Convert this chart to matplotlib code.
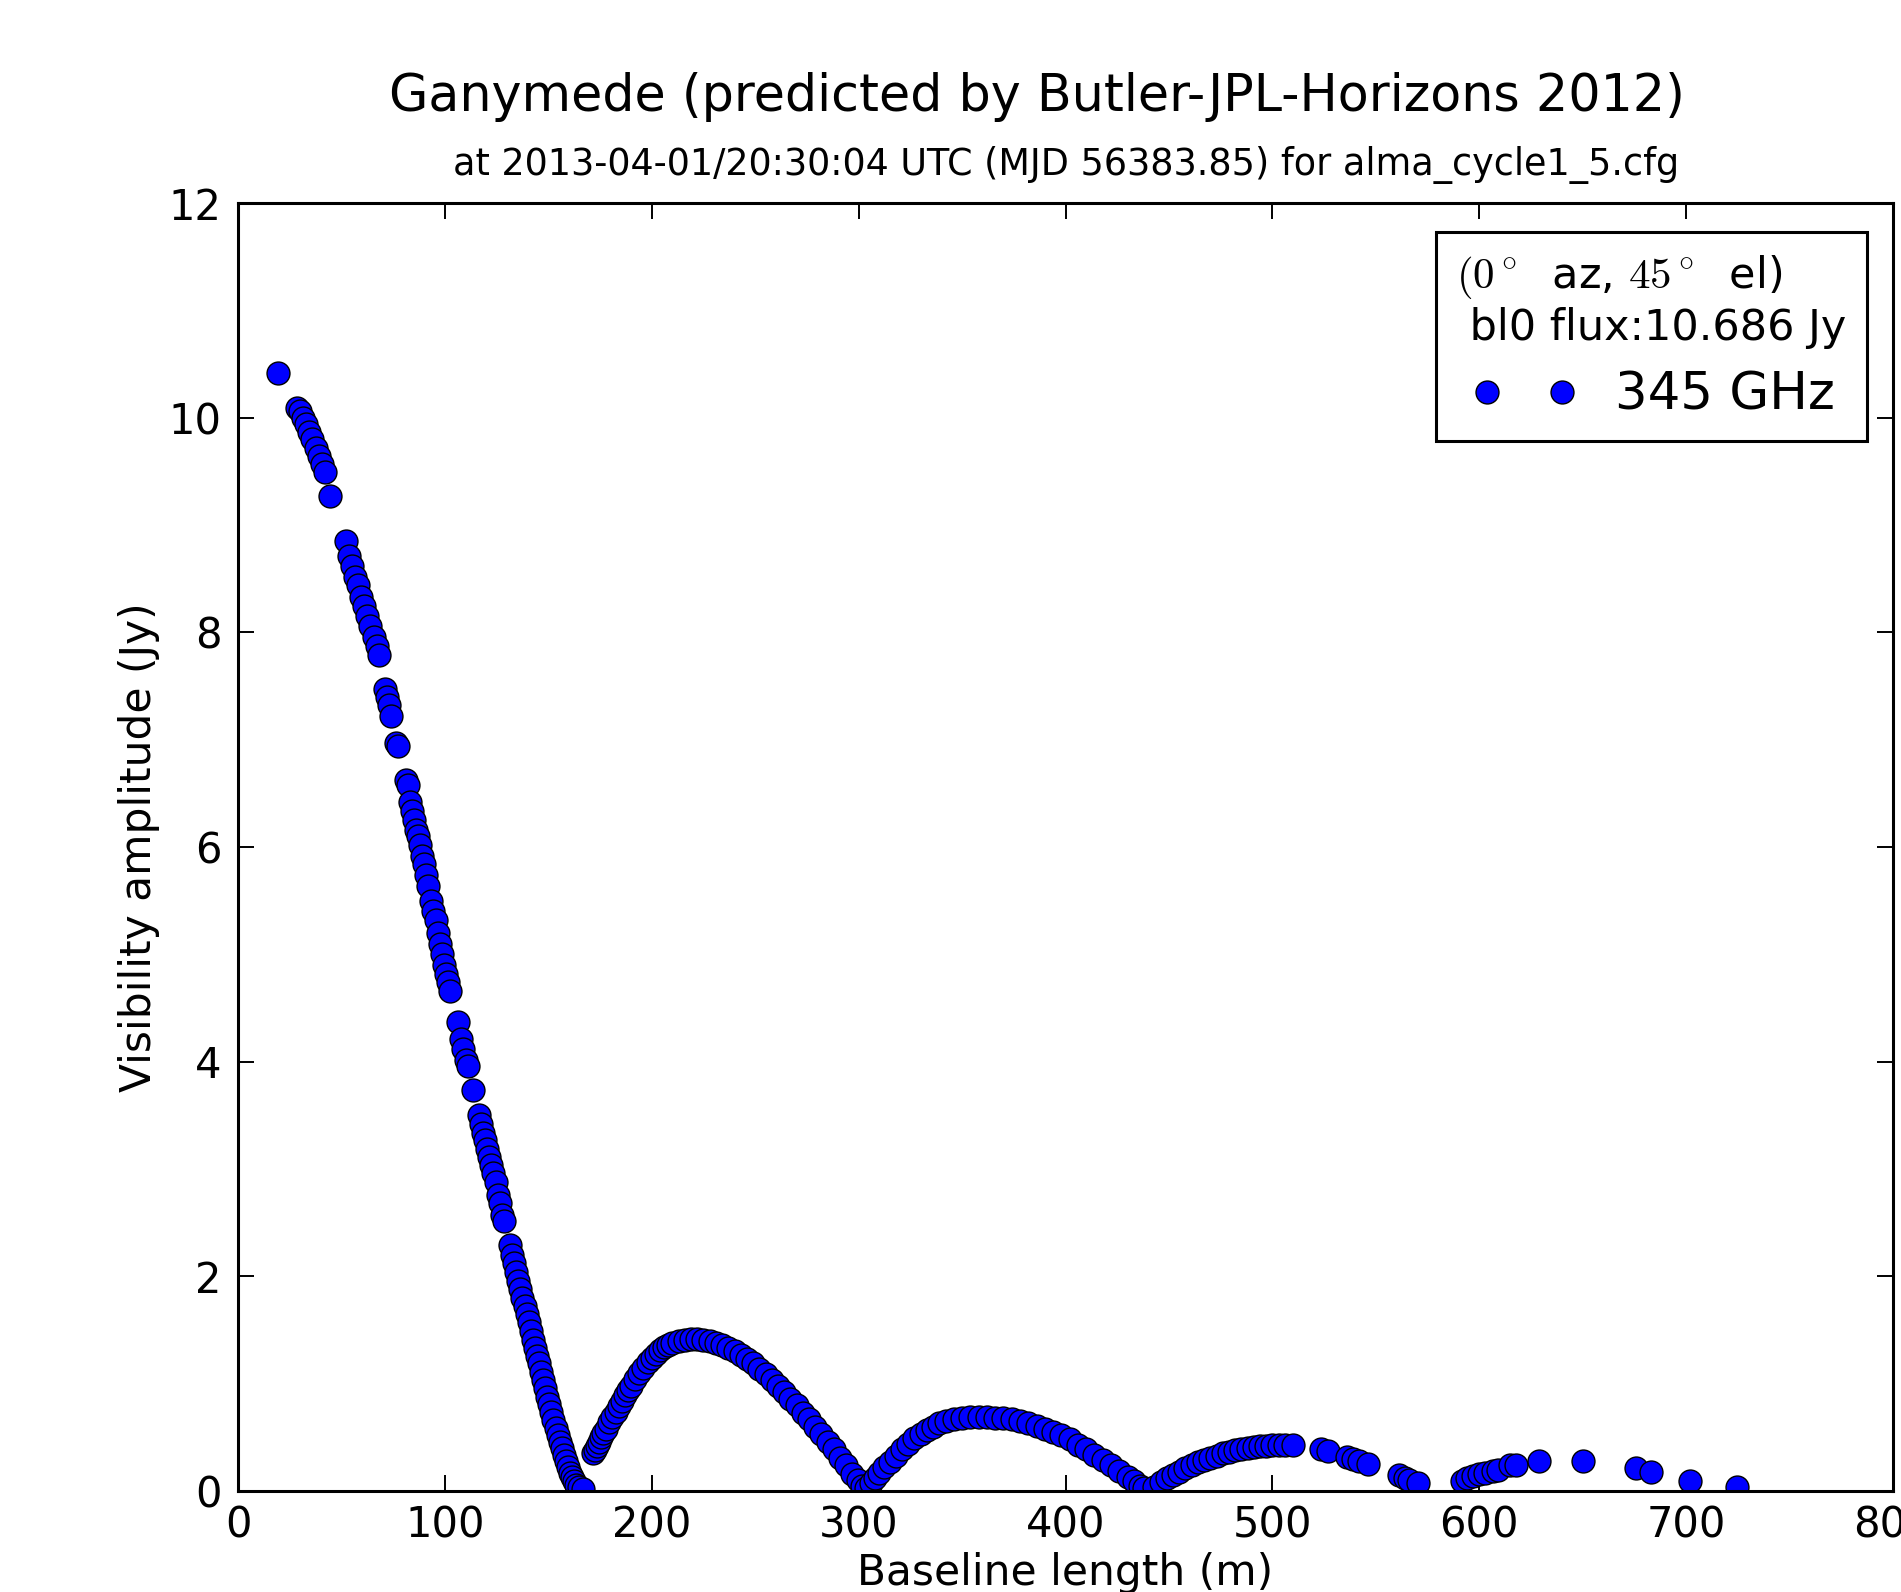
import matplotlib
matplotlib.use('Agg')
import matplotlib.pyplot as plt
from matplotlib.lines import Line2D
from matplotlib.legend_handler import HandlerLine2D

plt.rcParams['font.family'] = ['DejaVu Sans']
plt.rcParams['mathtext.fontset'] = 'cm'

# baseline length (m) and visibility amplitude (Jy)
baseline = [
    19.3, 28.5, 30.0, 31.5, 33.0, 34.5, 36.0, 37.5, 39.0, 40.5, 42.0, 44.5,
    52.0, 53.5, 55.0, 56.5, 58.0, 59.5, 61.0, 62.5, 64.0, 65.5, 67.0, 68.0,
    71.0, 72.0, 73.0, 74.0, 76.5, 77.5, 81.0, 82.0, 83.0, 84.0, 85.0, 86.0,
    87.0, 88.0, 89.0, 90.0, 91.0, 92.0, 93.5, 94.5, 95.5, 96.5, 97.5, 98.5,
    99.5, 100.5, 101.5, 102.5, 106.5, 108.0, 109.0, 110.0, 111.0, 113.5,
    116.5, 117.5, 118.5, 119.5, 120.5, 121.5, 122.5, 123.5, 124.5, 125.5,
    126.5, 127.5, 128.5, 131.5, 132.5, 133.5, 134.5, 135.5, 136.5, 137.5,
    138.5, 139.5, 140.5, 141.5, 142.5, 143.5, 144.5, 145.5, 146.5, 147.5,
    148.5, 149.5, 150.5, 151.5, 152.5, 153.5, 154.5, 155.5, 156.5, 157.5,
    158.5, 159.5, 160.5, 161.5, 162.5, 163.5, 165.0, 167.0,
    171.5, 172.5, 173.5, 174.5, 175.5, 176.5, 178.0, 179.5, 181.0, 182.5,
    184.0, 185.5, 187.0, 188.5, 190.0, 192.0, 194.0, 196.0, 198.0, 200.0,
    202.0, 204.0, 206.0, 208.0, 210.0, 213.0, 216.0, 219.0, 222.0, 225.0,
    228.0, 231.0, 234.0, 237.0, 240.0, 243.0, 246.0, 249.0, 252.0, 255.0,
    258.0, 261.0, 264.0, 267.0, 270.0, 273.0, 276.0, 279.0, 282.0, 285.0,
    288.0, 291.0, 294.0, 297.0, 299.5, 301.5, 303.5,
    306.0, 308.0, 310.0, 312.5, 315.0, 318.0, 321.0, 324.0, 327.0, 330.0,
    333.0, 336.0, 339.0, 342.0, 346.0, 350.0, 354.0, 358.0, 362.0, 366.0,
    370.0, 374.0, 378.0, 382.0, 386.0, 390.0, 394.0, 398.0, 402.0, 406.0,
    410.0, 414.0, 418.0, 422.0, 426.0, 430.0, 433.0, 436.0, 438.0,
    443.0, 446.0, 449.0, 452.0, 455.0, 458.0, 461.0, 464.0, 467.0, 470.0,
    473.0, 476.0, 479.0, 482.0, 485.0, 488.0, 491.0, 494.0, 497.0, 500.0,
    503.0, 506.0, 510.0, 523.5, 527.0, 536.0, 539.0, 542.0, 546.0, 561.0,
    564.0, 566.0, 570.5,
    591.5, 594.0, 597.0, 600.0, 603.0, 606.5, 609.0, 615.0, 618.0, 629.0,
    650.0, 676.0, 683.0, 702.0, 724.5,
]
amplitude = [
    10.42, 10.09, 10.06, 10.00, 9.94, 9.87, 9.80, 9.72, 9.64, 9.57, 9.49, 9.27,
    8.85, 8.71, 8.62, 8.52, 8.44, 8.33, 8.25, 8.15, 8.06, 7.96, 7.87, 7.79,
    7.47, 7.40, 7.32, 7.22, 6.97, 6.94, 6.62, 6.58, 6.42, 6.34, 6.25, 6.16,
    6.10, 6.02, 5.92, 5.84, 5.74, 5.64, 5.50, 5.40, 5.32, 5.20, 5.10, 5.00,
    4.90, 4.82, 4.74, 4.66, 4.37, 4.21, 4.12, 4.02, 3.96, 3.74,
    3.50, 3.42, 3.34, 3.27, 3.19, 3.11, 3.04, 2.96, 2.88, 2.76,
    2.68, 2.57, 2.52, 2.29, 2.20, 2.12, 2.04, 1.96, 1.88, 1.80,
    1.72, 1.65, 1.57, 1.49, 1.41, 1.33, 1.26, 1.19, 1.11, 1.03,
    0.96, 0.88, 0.81, 0.74, 0.66, 0.59, 0.52, 0.46, 0.40, 0.34,
    0.28, 0.22, 0.17, 0.13, 0.09, 0.06, 0.04, 0.02,
    0.35, 0.38, 0.42, 0.46, 0.50, 0.54, 0.58, 0.64, 0.69, 0.74,
    0.79, 0.84, 0.89, 0.94, 0.98, 1.04, 1.10, 1.15, 1.20, 1.24,
    1.28, 1.31, 1.34, 1.36, 1.38, 1.40, 1.41, 1.42, 1.42, 1.41,
    1.40, 1.38, 1.36, 1.33, 1.30, 1.27, 1.23, 1.19, 1.14, 1.09,
    1.03, 0.98, 0.92, 0.86, 0.80, 0.73, 0.67, 0.60, 0.53, 0.46,
    0.39, 0.31, 0.24, 0.16, 0.10, 0.05, 0.03,
    0.07, 0.12, 0.17, 0.22, 0.27, 0.33, 0.39, 0.44, 0.49, 0.53,
    0.57, 0.60, 0.63, 0.65, 0.67, 0.68, 0.69, 0.69, 0.69, 0.68,
    0.68, 0.67, 0.65, 0.63, 0.61, 0.58, 0.55, 0.52, 0.48, 0.43,
    0.39, 0.34, 0.29, 0.24, 0.19, 0.13, 0.09, 0.05, 0.03,
    0.04, 0.08, 0.12, 0.15, 0.18, 0.21, 0.24, 0.27, 0.29, 0.31,
    0.33, 0.35, 0.36, 0.38, 0.39, 0.40, 0.41, 0.42, 0.42, 0.43,
    0.43, 0.43, 0.43, 0.39, 0.37, 0.32, 0.30, 0.28, 0.25, 0.15,
    0.12, 0.10, 0.07,
    0.09, 0.12, 0.14, 0.16, 0.17, 0.19, 0.20, 0.24, 0.24, 0.28,
    0.28, 0.21, 0.18, 0.09, 0.04,
]

title = 'Ganymede (predicted by Butler-JPL-Horizons 2012)'
subtitle = 'at 2013-04-01/20:30:04 UTC (MJD 56383.85) for alma_cycle1_5.cfg'
legend_title = r'$(0^\circ$  az, $45^\circ$  el)' + '\n bl0 flux:10.686 Jy'
series_label = '345 GHz'

fig = plt.figure(figsize=(19.01, 15.92), dpi=100)
ax = fig.add_axes([238 / 1901, 1 - 1491 / 1592, (1893 - 238) / 1901, (1491 - 203) / 1592])

ax.plot(baseline, amplitude, 'o', color='#0000ff', markeredgecolor='black',
        markeredgewidth=1.0, markersize=16.5, label=series_label)

ax.set_xlim(0, 800)
ax.set_ylim(0, 12)
ax.set_xticks(range(0, 900, 100))
ax.set_yticks(range(0, 14, 2))

ax.tick_params(direction='in', top=True, right=True, length=11.5, width=1.4,
               labelsize=30, colors='black')
ax.tick_params(axis='x', pad=10)
ax.tick_params(axis='y', pad=12)
for s in ax.spines.values():
    s.set_linewidth(2.2)

ax.set_xlabel('Baseline length (m)', fontsize=30.5, labelpad=4)
ax.set_ylabel('Visibility amplitude (Jy)', fontsize=30.5, labelpad=6)

fig.text(1037 / 1901, 1 - 97 / 1592, title, fontsize=36.5, ha='center', va='center')
fig.text(1066 / 1901, 1 - 165 / 1592, subtitle, fontsize=26.3, ha='center', va='center')

# two markers per entry, set in from the left edge like the original
leg = ax.legend(loc='upper right', bbox_to_anchor=(1867 / 1901, 1 - 232 / 1592),
                bbox_transform=fig.transFigure, borderaxespad=0, numpoints=2,
                fontsize=37, title=legend_title, title_fontsize=31,
                alignment='left', fancybox=False, framealpha=1, edgecolor='black',
                handlelength=2.68, handletextpad=0.41, borderpad=0.4,
                labelspacing=0.42,
                handler_map={Line2D: HandlerLine2D(marker_pad=0.61)})
leg.get_frame().set_linewidth(2.2)
leg.get_title().set_multialignment('left')

fig.savefig('out.png', dpi=100)
